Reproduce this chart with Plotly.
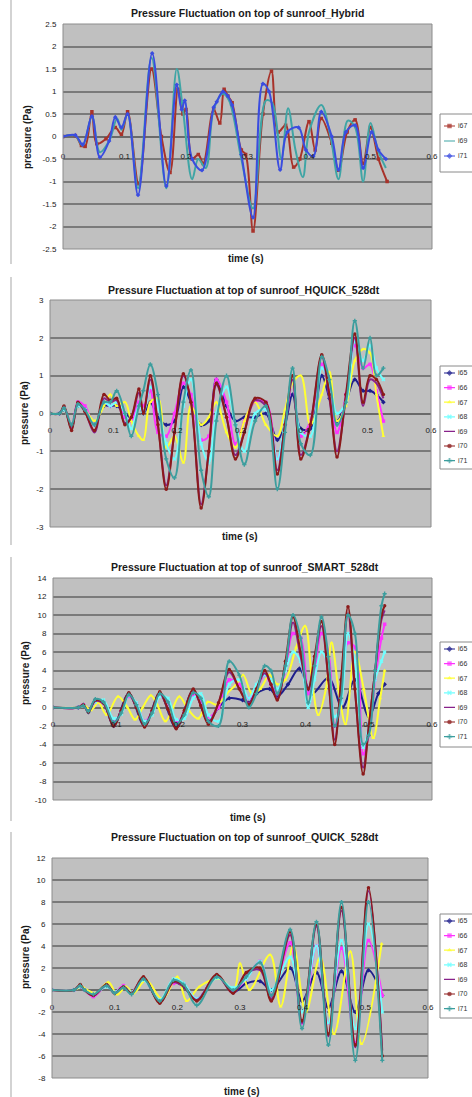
import plotly.graph_objects as go

W, H = 472, 1097

# ---------------- DATA ----------------
# Chart 1 : Hybrid
hyb_i67_t = [0, 0.02, 0.03, 0.036, 0.047, 0.055, 0.07, 0.085, 0.095, 0.105, 0.123, 0.144, 0.16, 0.174, 0.187,
             0.195, 0.2, 0.21, 0.22, 0.228, 0.245, 0.255, 0.262, 0.268, 0.275, 0.29, 0.297, 0.309, 0.325, 0.339,
             0.35, 0.362, 0.375, 0.385, 0.4, 0.41, 0.42, 0.437, 0.448, 0.462, 0.475, 0.488, 0.5, 0.513, 0.527]
hyb_i67_p = [0, 0.02, -0.2, -0.22, 0.55, -0.16, -0.05, 0.2, 0.05, 0.55, -1.05, 1.5, 0.0, -0.8, 1.05,
             0.5, 0.6, -0.5, -0.4, -0.6, 0.6, 0.3, 1.05, 0.9, 0.75, -0.3, -0.4, -2.1, 0.5, 1.45,
             0.1, 0.25, -0.68, -0.5, 0.33, -0.3, 0.4, -0.15, -0.75, 0.1, 0.37, -0.6, 0.2, -0.5, -1.0]
hyb_i69_t = [0, 0.02, 0.032, 0.047, 0.06, 0.075, 0.088, 0.095, 0.105, 0.122, 0.144, 0.168, 0.185, 0.195, 0.21,
             0.22, 0.232, 0.245, 0.26, 0.27, 0.29, 0.309, 0.33, 0.34, 0.355, 0.366, 0.378, 0.39, 0.4, 0.42,
             0.435, 0.448, 0.463, 0.475, 0.488, 0.5, 0.512, 0.525]
hyb_i69_p = [0, 0.02, -0.2, 0.45, -0.35, -0.1, 0.4, 0.15, 0.5, -1.15, 1.75, -1.15, 1.5, 0.6, -0.95,
             -0.5, -0.7, 0.6, 0.95, 0.8, -0.5, -1.6, 0.8, 0.75, -0.5, 0.63, -0.3, -0.9, 0.1, 0.7,
             0.0, -0.95, 0.35, 0.2, -1.0, 0.3, -0.3, -0.7]
hyb_i71_t = [0, 0.02, 0.032, 0.047, 0.06, 0.075, 0.085, 0.095, 0.105, 0.122, 0.145, 0.168, 0.185, 0.193, 0.198,
             0.21, 0.226, 0.245, 0.25, 0.26, 0.268, 0.275, 0.29, 0.309, 0.325, 0.335, 0.353, 0.365, 0.383, 0.395,
             0.407, 0.42, 0.437, 0.448, 0.46, 0.475, 0.488, 0.502, 0.513, 0.525]
hyb_i71_p = [0, 0.03, -0.18, 0.45, -0.46, -0.1, 0.43, 0.2, 0.5, -1.3, 1.85, -1.1, 1.15, 0.6, 0.8,
             -0.5, -0.75, 0.65, 0.77, 1.0, 0.9, 0.7, -0.4, -1.8, 1.17, 1.0, -0.74, 0.1, 0.2, -0.3,
             -0.44, 0.55, 0.0, -0.74, 0.1, 0.25, -0.7, 0.1, -0.3, -0.5]

# Chart 2 : HQUICK_528dt (common time nodes)
hq_t = [0, 0.015, 0.022, 0.034, 0.044, 0.055, 0.07, 0.085, 0.095, 0.105, 0.118, 0.128, 0.14, 0.147, 0.158,
        0.17, 0.183, 0.196, 0.21, 0.222, 0.238, 0.25, 0.262, 0.278, 0.292, 0.306, 0.323, 0.34, 0.358, 0.37,
        0.382, 0.395, 0.41, 0.428, 0.44, 0.452, 0.466, 0.48, 0.493, 0.504, 0.514, 0.525]
hq_i65 = [0, 0, 0.1, -0.3, 0.2, 0.1, -0.3, 0.2, 0.2, 0.2, 0.0, -0.1, 0.2, 0.0, 0.3, -0.1, -0.3, -0.2, 0.7, 0.3,
          -0.3, -0.2, 0.9, 0.2, -0.2, -0.1, -0.1, 0.0, -0.7, -0.3, 0.5, -0.4, -0.4, 1.0, 0.4, -0.2, 0.3, 0.9,
          0.6, 0.6, 0.5, 0.3]
hq_i66 = [0, 0, 0.15, -0.3, 0.3, 0.2, -0.3, 0.3, 0.2, 0.3, -0.1, -0.2, 0.3, 0.2, 0.6, -0.5, -0.6, 0.0, 0.8, 0.5,
          -0.7, -0.6, 0.9, 0.3, -0.8, -0.2, 0.3, 0.3, -1.2, -0.3, 0.8, -0.6, -0.2, 1.3, 0.6, -0.5, 0.5, 1.8,
          1.2, 1.3, 0.6, -0.2]
hq_i67 = [0, 0, 0.1, -0.3, 0.2, 0.1, -0.2, 0.2, 0.5, 0.2, 0.3, -0.2, -0.6, -0.7, 0.3, 0.4, -0.9, -0.6, -1.3, 0.2,
          -0.3, -0.1, 0.3, -0.5, -0.9, -0.2, 0.3, -0.3, -0.6, 0.1, 0.8, 1.0, -0.3, 0.5, 1.1, -0.2, 0.2, 1.4,
          1.7, 1.6, 0.5, -0.6]
hq_i68 = [0, 0, 0.1, -0.3, 0.2, 0.1, -0.3, 0.3, 0.2, 0.3, 0.0, -0.4, 0.2, 0.0, 0.7, 0.2, -0.8, -1.2, 0.2, 0.9,
          -0.8, -1.3, 0.0, 0.7, -0.3, -1.0, 0.0, 0.1, -1.2, -0.2, 0.9, -0.5, -0.6, 1.2, 0.8, 0.0, 0.3, 1.9,
          1.4, 1.8, 1.2, 0.9]
hq_i69 = [0, 0, 0.15, -0.4, 0.25, 0.05, -0.5, 0.4, 0.3, 0.35, -0.25, -0.1, 0.55, 0.0, 0.9, -0.3, -1.9, -0.5, 1.0,
          0.3, -2.4, -1.0, 0.75, -0.1, -1.1, -0.5, 0.35, 0.2, -1.5, -0.3, 0.9, -1.1, -0.3, 1.5, 0.4, -1.0, 0.4,
          2.0, 0.2, 0.9, 0.8, 0.4]
hq_i70 = [0, 0, 0.2, -0.45, 0.3, 0.05, -0.45, 0.5, 0.35, 0.4, -0.3, -0.1, 0.65, 0.0, 1.0, -0.3, -2.0, -0.5, 1.05,
          0.3, -2.5, -1.0, 0.8, -0.1, -1.2, -0.5, 0.4, 0.3, -1.6, -0.3, 1.0, -1.2, -0.3, 1.55, 0.5, -1.15, 0.5,
          2.1, 0.3, 1.0, 0.9, 0.5]
hq_i71 = [0, 0, 0.15, -0.3, 0.25, 0.1, -0.3, 0.3, 0.3, 0.6, 0.0, -0.6, 0.2, 0.6, 1.3, 0.5, -1.2, -1.7, 0.3, 1.15,
          -1.5, -2.2, -0.2, 1.0, -0.3, -1.35, -0.2, 0.2, -2.0, -0.5, 1.2, -0.8, -1.1, 1.5, 0.9, -0.3, 0.3, 2.45,
          1.2, 2.0, 1.0, 1.2]

# Chart 3 : SMART_528dt
sm_t = [0, 0.04, 0.048, 0.056, 0.067, 0.08, 0.096, 0.108, 0.12, 0.132, 0.145, 0.157, 0.169, 0.182, 0.195,
        0.208, 0.222, 0.234, 0.246, 0.262, 0.279, 0.295, 0.31, 0.322, 0.335, 0.345, 0.355, 0.368, 0.38, 0.392,
        0.404, 0.414, 0.425, 0.436, 0.446, 0.456, 0.467, 0.478, 0.491, 0.5, 0.51, 0.52, 0.525]
sm_i65_t = [0, 0.04, 0.048, 0.056, 0.067, 0.08, 0.096, 0.12, 0.145, 0.169, 0.195, 0.222, 0.246, 0.262, 0.279,
            0.3, 0.31, 0.322, 0.343, 0.355, 0.372, 0.39, 0.41, 0.436, 0.458, 0.478, 0.5, 0.515, 0.525]
sm_i65 = [0, 0, 0.3, -0.5, 0.8, 0.5, -2.0, 1.5, -2.0, 1.5, -2.2, 1.8, -1.5, 0.0, 1.0,
          0.8, 0.5, 1.5, 2.0, 1.2, 2.5, 4.2, 1.5, 3.2, 0.0, 3.0, -1.0, 1.5, 2.5]
sm_i66 = [0, 0, 0.3, -0.3, 0.5, 0.6, -1.5, -0.5, 1.2, 0.4, -1.5, -0.5, 1.3, 0.5, -1.6, -0.6, 1.4, 0.6, -1.0, 0.0,
          3.0, 2.5, 1.0, 2.0, 3.5, 2.5, 1.5, 4.0, 8.0, 7.5, 1.5, 4.0, 8.0, 6.0, -2.0, 1.0, 7.0, 6.5, -5.0, -3.0,
          3.0, 7.5, 9.0]
sm_i67_t = [0, 0.04, 0.05, 0.06, 0.072, 0.085, 0.103, 0.118, 0.13, 0.142, 0.155, 0.165, 0.178, 0.19, 0.2,
            0.215, 0.23, 0.245, 0.26, 0.275, 0.29, 0.301, 0.315, 0.328, 0.343, 0.355, 0.368, 0.385, 0.399, 0.41,
            0.42, 0.432, 0.441, 0.452, 0.463, 0.478, 0.492, 0.507, 0.518, 0.525]
sm_i67 = [0, 0, 0.2, -0.3, 0.5, -0.8, 1.2, 0.0, -1.3, 0.0, 1.3, 0.3, -1.5, 0.0, 1.2, -0.3, -1.2, 0.6, 0.3, 1.5,
          2.5, 3.5, 1.5, 2.0, 3.5, 2.5, 3.0, 6.5, 8.8, 3.0, -0.8, 2.0, 7.0, 2.0, -1.8, 6.0, 2.0, -3.3, 1.0, 4.0]
sm_i68 = [0, 0, 0.2, -0.4, 0.6, 0.8, -1.2, -0.7, 1.3, 0.5, -1.5, -0.8, 1.2, 1.0, -1.3, -1.2, 1.0, 1.5, -0.8, -1.5,
          2.5, 3.0, 1.0, 2.5, 3.5, 3.0, 2.0, 4.0, 6.0, 5.0, 0.0, 3.0, 6.0, 4.5, -1.0, 0.5, 8.0, 5.0, -4.3, -2.0,
          3.0, 5.0, 6.0]
sm_i69 = [0, 0, 0.2, -0.4, 0.7, 0.4, -1.8, -0.3, 1.4, 0.0, -1.9, -0.3, 1.5, -0.2, -2.1, -0.3, 1.8, 0.2, -1.6, 0.5,
          3.8, 2.0, 0.5, 2.0, 3.7, 2.5, 1.0, 4.6, 9.2, 5.5, 2.0, 5.0, 8.8, 3.0, -3.5, 2.5, 10.2, 1.8, -6.5, -2.0,
          4.0, 9.5, 10.5]
sm_i70 = [0, 0, 0.3, -0.5, 0.8, 0.5, -2.0, -0.3, 1.6, 0.0, -2.1, -0.3, 1.7, -0.2, -2.3, -0.3, 2.0, 0.2, -1.8, 0.5,
          4.1, 2.0, 0.3, 2.0, 4.0, 2.5, 0.8, 5.0, 9.8, 6.0, 2.0, 5.5, 9.3, 3.0, -4.0, 3.0, 10.9, 2.0, -7.2, -2.0,
          4.0, 10.0, 11.0]
sm_i71 = [0, 0, 0.2, -0.4, 0.9, 0.6, -1.6, -0.6, 1.4, 0.3, -1.8, -0.6, 1.5, 0.6, -1.8, -0.8, 1.6, 1.0, -1.5, -2.0,
          5.0, 3.5, 0.0, 1.5, 4.5, 4.0, 1.5, 4.5, 10.0, 7.5, 0.5, 4.5, 9.8, 5.5, -2.0, 1.0, 10.0, 8.0, -4.0, -3.0,
          4.0, 11.0, 12.3]

# Chart 4 : QUICK_528dt
qk_t = [0, 0.035, 0.045, 0.052, 0.066, 0.087, 0.1, 0.114, 0.127, 0.146, 0.172, 0.194, 0.21, 0.231, 0.263,
        0.289, 0.31, 0.332, 0.35, 0.38, 0.399, 0.422, 0.441, 0.462, 0.484, 0.505, 0.527]
qk_i65 = [0, 0, 0.3, 0, -0.4, 0.4, -0.2, 0.3, -0.2, 1.0, -1.1, 0.7, 0.3, -0.9, 1.3, -0.2, 0.6, 0.8, 0.0, 2.0,
          -1.0, 1.6, -1.6, 1.7, -2.0, 1.8, -0.5]
qk_i66 = [0, 0, 0.3, 0, -0.6, 0.4, -0.2, 0.4, -0.2, 1.0, -1.0, 0.6, 0.5, -0.8, 1.2, 0.0, 1.0, 2.6, -0.5, 4.3,
          -3.0, 4.0, -3.0, 3.8, -4.8, 4.5, -0.5]
qk_i67_t = [0, 0.035, 0.048, 0.056, 0.07, 0.09, 0.104, 0.118, 0.13, 0.15, 0.176, 0.2, 0.215, 0.235, 0.268,
            0.29, 0.3, 0.315, 0.348, 0.365, 0.385, 0.405, 0.428, 0.45, 0.476, 0.494, 0.526]
qk_i67 = [0, 0, 0.3, 0, -0.3, 0.7, -0.4, 0.3, -0.3, 0.9, -0.8, 1.2, -1.0, 0.3, 1.0, 0.0, 2.4, 0.0, 3.2, -1.5,
          4.0, -2.0, 3.0, -4.0, 3.5, -4.9, 4.2]
qk_i68 = [0, 0, 0.3, 0, -0.4, 0.3, -0.2, 0.3, -0.2, 0.9, -0.9, 1.0, 0.6, -0.8, 1.1, 0.2, 1.0, 2.6, 0.0, 3.0,
          -2.0, 4.0, -3.0, 4.5, -3.5, 6.0, -2.0]
qk_i69 = [0, 0, 0.4, 0, -0.5, 0.4, -0.3, 0.3, -0.3, 1.1, -1.1, 0.7, 0.3, -0.9, 1.3, -0.3, 1.5, 1.8, -0.8, 5.0,
          -3.0, 5.8, -4.2, 7.2, -5.2, 9.0, -5.5]
qk_i70 = [0, 0, 0.5, 0, -0.5, 0.5, -0.3, 0.3, -0.3, 1.2, -1.2, 0.8, 0.4, -1.0, 1.4, -0.3, 1.6, 2.0, -1.0, 5.3,
          -2.8, 6.0, -4.0, 7.5, -5.0, 9.3, -6.0]
qk_i71 = [0, 0, 0.4, 0, -0.4, 0.4, -0.3, 0.2, -0.4, 1.0, -1.0, 0.9, 0.5, -1.4, 1.2, 0.0, 1.2, 2.5, -0.5, 5.5,
          -3.5, 6.2, -5.0, 8.0, -6.4, 8.0, -6.4]

titles = ["Pressure Fluctuation on top of sunroof_Hybrid",
          "Pressure Fluctuation at top of sunroof_HQUICK_528dt",
          "Pressure Fluctuation at top of sunroof_SMART_528dt",
          "Pressure Fluctuation on top of sunroof_QUICK_528dt"]
x_ticks = [0, 0.1, 0.2, 0.3, 0.4, 0.5, 0.6]
y_ticks = [[-2.5, -2, -1.5, -1, -0.5, 0, 0.5, 1, 1.5, 2, 2.5],
           [-3, -2, -1, 0, 1, 2, 3],
           [-10, -8, -6, -4, -2, 0, 2, 4, 6, 8, 10, 12, 14],
           [-8, -6, -4, -2, 0, 2, 4, 6, 8, 10, 12]]
x_title = "time (s)"
y_title = "pressure (Pa)"

series = [
    [("i67", hyb_i67_t, hyb_i67_p), ("i69", hyb_i69_t, hyb_i69_p), ("i71", hyb_i71_t, hyb_i71_p)],
    [("i65", hq_t, hq_i65), ("i66", hq_t, hq_i66), ("i67", hq_t, hq_i67), ("i68", hq_t, hq_i68),
     ("i69", hq_t, hq_i69), ("i70", hq_t, hq_i70), ("i71", hq_t, hq_i71)],
    [("i65", sm_i65_t, sm_i65), ("i66", sm_t, sm_i66), ("i67", sm_i67_t, sm_i67), ("i68", sm_t, sm_i68),
     ("i69", sm_t, sm_i69), ("i70", sm_t, sm_i70), ("i71", sm_t, sm_i71)],
    [("i65", qk_t, qk_i65), ("i66", qk_t, qk_i66), ("i67", qk_i67_t, qk_i67), ("i68", qk_t, qk_i68),
     ("i69", qk_t, qk_i69), ("i70", qk_t, qk_i70), ("i71", qk_t, qk_i71)],
]

# ---------------- STYLE ----------------
style = {
    "i65": ("#1E1E8C", "diamond"),
    "i66": ("#FF33FF", "square"),
    "i67": ("#FFFF33", "triangle-up"),
    "i68": ("#70FFFF", "x"),
    "i69": ("#88228A", "asterisk"),
    "i70": ("#8B1A1A", "circle"),
    "i71": ("#3C9E9E", "cross"),
}
style_hybrid = {
    "i67": ("#A8322A", "square"),
    "i69": ("#3FA5A5", "line-ew"),
    "i71": ("#3A4CE0", "diamond"),
}

# layout boxes in pixels (plot left/right/top/bottom, legend box top/bottom + first entry/spacing)
boxes = [
    dict(l=63, r=432, t=24, b=249, tl=12, lt=114, lb=172, le=126, ls=15,
         title=(247, 13), ytit=(27, 137), xtit=(246, 258)),
    dict(l=50, r=431, t=300, b=527, tl=9, lt=366, lb=469, le=373, ls=14.6,
         title=(244, 290), ytit=(24, 413), xtit=(240, 537)),
    dict(l=53, r=432, t=578, b=800, tl=9, lt=642, lb=747, le=649, ls=14.6,
         title=(245, 567), ytit=(25, 673), xtit=(248, 817)),
    dict(l=52, r=428, t=858, b=1078, tl=9, lt=914, lb=1018, le=921, ls=14.6,
         title=(245, 837), ytit=(25, 957), xtit=(242, 1091)),
]
KEY_X = [0, 0.5, 1]          # legend key: line from left to right, marker in the middle
KEY_MS = [0, 4.5, 0]


def fx(px):
    return px / W


def fy(py):
    return 1 - py / H


FONT = "Liberation Sans, Arial, sans-serif"
TXT = "#1a1a1a"
SILVER = "#C0C0C0"

fig = go.Figure()
annotations = []
shapes = []
layout = dict(
    width=W, height=H, autosize=False,
    margin=dict(l=0, r=0, t=0, b=0, pad=0, autoexpand=False),
    paper_bgcolor="white", plot_bgcolor="white",
    font=dict(family=FONT, size=8, color=TXT),
    showlegend=False,
)

for k in range(4):
    n = k + 1
    sfx = "" if n == 1 else str(n)
    lsfx = str(n + 4)
    bx = boxes[k]
    yt = y_ticks[k]
    ymin, ymax = yt[0], yt[-1]
    zero_px = bx["t"] + (ymax / (ymax - ymin)) * (bx["b"] - bx["t"])
    sty = style_hybrid if k == 0 else style
    names = [s[0] for s in series[k]]
    for name, tt, pp in series[k]:
        col, sym = sty[name]
        fig.add_trace(go.Scatter(
            x=tt, y=pp, name=name, mode="lines+markers",
            line=dict(color=col, width=2.0, shape="spline", smoothing=1.0),
            marker=dict(color=col, size=3.5, symbol=sym, line=dict(width=0, color=col)),
            xaxis="x" + sfx, yaxis="y" + sfx, hoverinfo="x+y+name",
        ))
        # legend key drawn on the small legend axes (category = series name)
        fig.add_trace(go.Scatter(
            x=KEY_X, y=[name] * len(KEY_X), name=name, mode="lines+markers",
            line=dict(color=col, width=1.2),
            marker=dict(color=col, size=KEY_MS, symbol=sym, line=dict(width=0, color=col)),
            xaxis="x" + lsfx, yaxis="y" + lsfx, hoverinfo="skip", cliponaxis=False,
        ))
    layout["xaxis" + sfx] = dict(
        domain=[fx(bx["l"]), fx(bx["r"])], range=[0, 0.6],
        tickvals=x_ticks, ticktext=[f"{v:g}" for v in x_ticks],
        anchor="free", position=fy(zero_px),
        showgrid=False, zeroline=False, showline=False,
        ticks="outside", ticklen=bx["tl"], tickcolor="rgba(0,0,0,0)",
        tickfont=dict(size=8, color=TXT, family=FONT), fixedrange=True,
    )
    layout["yaxis" + sfx] = dict(
        domain=[fy(bx["b"]), fy(bx["t"])], range=[ymin, ymax],
        tickvals=yt, ticktext=[f"{v:g}" for v in yt],
        anchor="x" + sfx,
        showgrid=True, gridcolor="#7A7A7A", gridwidth=1.5,
        zeroline=True, zerolinecolor="#6A6A6A", zerolinewidth=1.5,
        showline=False,
        ticks="outside", ticklen=4, tickcolor="rgba(0,0,0,0)",
        tickfont=dict(size=8, color=TXT, family=FONT), fixedrange=True,
    )
    # legend axes
    ntr = len(names)
    top_px = bx["le"] - bx["ls"] / 2
    bot_px = bx["le"] + bx["ls"] * (ntr - 0.5)
    layout["xaxis" + lsfx] = dict(domain=[fx(444), fx(455)], range=[0, 1], visible=False,
                                  anchor="y" + lsfx, fixedrange=True)
    layout["yaxis" + lsfx] = dict(
        domain=[fy(bot_px), fy(top_px)], type="category", categoryorder="array",
        categoryarray=names[::-1], range=[-0.5, ntr - 0.5], anchor="x" + lsfx, side="right",
        showgrid=False, zeroline=False, showline=False, ticks="", ticklabelstandoff=2,
        tickfont=dict(size=7, color="#333333", family=FONT), fixedrange=True,
    )
    # plot-area fill (under gridlines) and border
    shapes.append(dict(type="rect", xref=f"x{sfx} domain", yref=f"y{sfx} domain",
                       x0=0, x1=1, y0=0, y1=1, fillcolor=SILVER, line=dict(width=0), layer="below"))
    shapes.append(dict(type="rect", xref=f"x{sfx} domain", yref=f"y{sfx} domain",
                       x0=0, x1=1, y0=0, y1=1, line=dict(color="#8C8C8C", width=1), layer="above"))
    # legend frame
    shapes.append(dict(type="rect", xref="paper", yref="paper", x0=fx(440), x1=fx(480),
                       y0=fy(bx["lb"]), y1=fy(bx["lt"]), fillcolor="white",
                       line=dict(color="#8A8A8A", width=1), layer="below"))
    annotations.append(dict(text=f"<b>{titles[k]}</b>", x=fx(bx["title"][0]), y=fy(bx["title"][1]),
                            xref="paper", yref="paper", showarrow=False, xanchor="center", yanchor="middle",
                            font=dict(size=10.5, color=TXT, family=FONT)))
    annotations.append(dict(text=f"<b>{y_title}</b>", x=fx(bx["ytit"][0]), y=fy(bx["ytit"][1]),
                            xref="paper", yref="paper", showarrow=False, textangle=-90,
                            xanchor="center", yanchor="middle", font=dict(size=10, color=TXT, family=FONT)))
    annotations.append(dict(text=f"<b>{x_title}</b>", x=fx(bx["xtit"][0]), y=fy(bx["xtit"][1]),
                            xref="paper", yref="paper", showarrow=False,
                            xanchor="center", yanchor="middle", font=dict(size=10, color=TXT, family=FONT)))

# chart-area left edges (light frame lines)
for y0, y1 in [(0, 264), (277, 545), (557, 821), (832, 1097)]:
    shapes.append(dict(type="line", xref="paper", yref="paper", x0=fx(11), x1=fx(11),
                       y0=fy(y0), y1=fy(y1), line=dict(color="#C4C4C4", width=1.5)))

layout["annotations"] = annotations
layout["shapes"] = shapes
fig.update_layout(**layout)

fig.write_html("out.html", config={"displayModeBar": False},
               post_script="document.body.style.margin='0';document.body.style.overflow='hidden';")
